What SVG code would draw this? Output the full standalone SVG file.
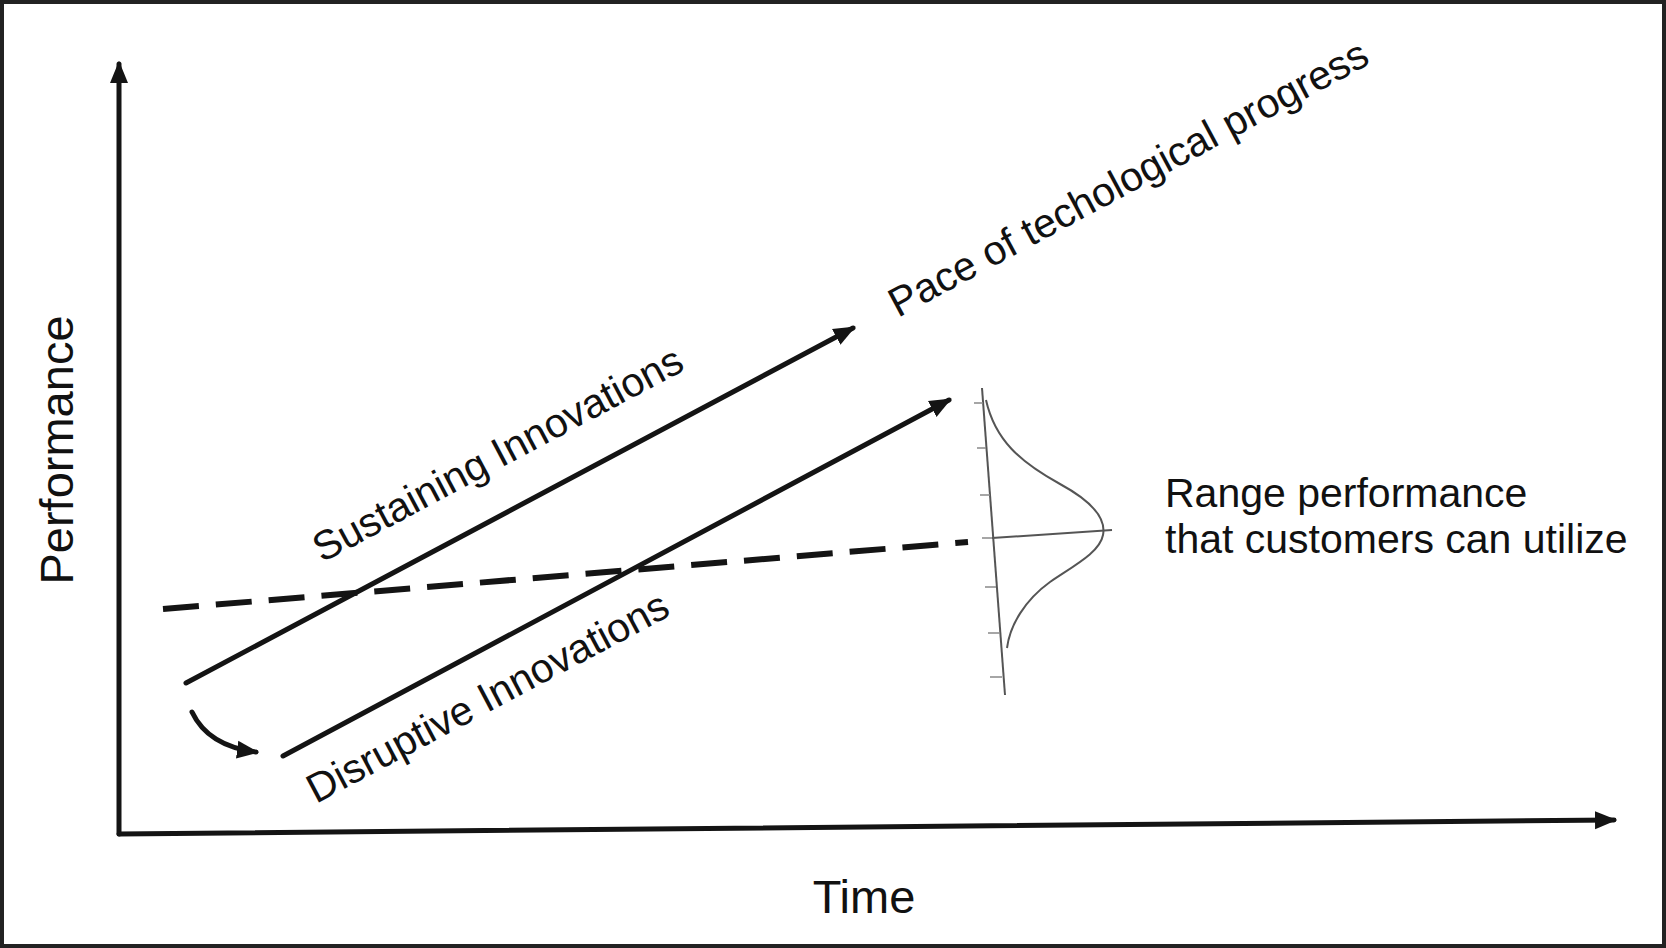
<svg xmlns="http://www.w3.org/2000/svg" width="1666" height="948" viewBox="0 0 1666 948">
<style>
.ln{stroke:#141414;stroke-width:5;fill:none;stroke-linecap:round}
.dash{stroke:#141414;stroke-width:6;fill:none;stroke-dasharray:36 17}
.lbl{font-family:"Liberation Sans",Arial,sans-serif;fill:#111}
.big{font-size:47px}
.mid{font-size:41px}
.dist{stroke:#555;stroke-width:2;fill:none}
.tick{stroke:#888;stroke-width:1.5}
</style>
<defs>
<marker id="ah" markerUnits="userSpaceOnUse" markerWidth="24" markerHeight="20" refX="19" refY="10" orient="auto">
<path d="M0,1 L22,10 L0,19 z" fill="#141414"/>
</marker>
</defs>
<rect x="2" y="2" width="1662" height="944" fill="#fff" stroke="#222" stroke-width="4"/>
<g id="axes">
<line class="ln" x1="119" y1="834" x2="119" y2="64" marker-end="url(#ah)"/>
<line class="ln" x1="119" y1="834" x2="1614" y2="820" marker-end="url(#ah)"/>
</g>
<g id="connectors">
<line class="ln" x1="186" y1="683" x2="853" y2="328" marker-end="url(#ah)"/>
<line class="ln" x1="283" y1="756" x2="949" y2="400" marker-end="url(#ah)"/>
<line class="dash" x1="163" y1="609" x2="968" y2="542"/>
<path class="ln" d="M192,712 Q208,746 256,752" marker-end="url(#ah)"/>
</g>
<g id="distribution">
<path class="dist" d="M982,388 L1005,695"/>
<path class="dist" d="M992,538 L1112,530"/>
<path class="dist" d="M986,400 C995,440 1020,462 1060,484 C1095,503 1106,520 1103,535 C1100,552 1075,565 1050,582 C1025,600 1010,625 1007,648"/>
<line class="tick" x1="974" y1="403" x2="983" y2="403"/>
<line class="tick" x1="977" y1="448" x2="986" y2="448"/>
<line class="tick" x1="980" y1="495" x2="990" y2="495"/>
<line class="tick" x1="982" y1="538" x2="992" y2="538"/>
<line class="tick" x1="985" y1="587" x2="996" y2="587"/>
<line class="tick" x1="988" y1="633" x2="1000" y2="633"/>
<line class="tick" x1="990" y1="677" x2="1002" y2="677"/>
</g>
<g id="label-performance"><text class="lbl big" transform="translate(73,450) rotate(-90)" text-anchor="middle">Performance</text></g>
<g id="label-time"><text class="lbl big" x="864" y="913" text-anchor="middle">Time</text></g>
<g id="label-sustaining"><text class="lbl mid" transform="translate(322,563) rotate(-28)">Sustaining Innovations</text></g>
<g id="label-disruptive"><text class="lbl mid" transform="translate(316,804) rotate(-28)">Disruptive Innovations</text></g>
<g id="label-pace"><text class="lbl mid" transform="translate(898,318) rotate(-28.3)">Pace of techological progress</text></g>
<g id="label-range">
<text class="lbl mid" x="1165" y="507">Range performance</text>
<text class="lbl mid" x="1165" y="553">that customers can utilize</text>
</g>
</svg>
